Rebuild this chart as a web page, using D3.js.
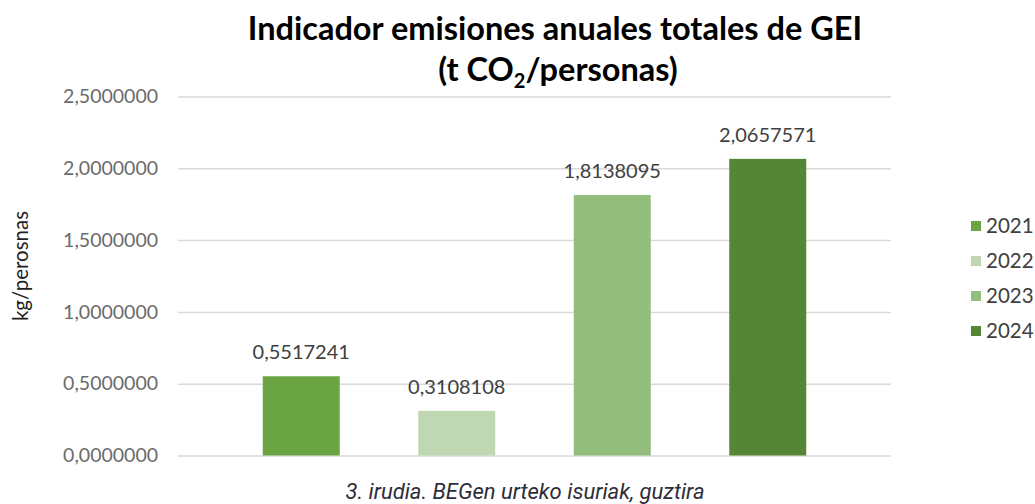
<!DOCTYPE html>
<html>
<head>
<meta charset="utf-8">
<script src="https://cdn.jsdelivr.net/npm/d3@7"></script>
<style>
  body { margin: 0; background: #fff; }
  svg { display: block; }
</style>
</head>
<body>
<div id="chart"></div>
<script>
// datos del grafico
const years = ["2021", "2022", "2023", "2024"];
const values = [0.5517241, 0.3108108, 1.8138095, 2.0657571];
const yTicks = [0, 0.5, 1, 1.5, 2, 2.5];
const colors = ["#6aa443", "#bfd7b3", "#93bd7c", "#558636"];

const width = 1035, height = 504;
const marginLeft = 178, marginRight = 144, marginTop = 97, marginBottom = 48;
const font = "Lato, 'Open Sans', sans-serif";

const fmt = v => v.toFixed(7).replace(".", ",");

const svg = d3.select("#chart")
  .append("svg")
  .attr("width", width)
  .attr("height", height)
  .attr("viewBox", [0, 0, width, height]);

const x = d3.scaleBand()
  .domain(years)
  .range([marginLeft, width - marginRight])
  .paddingInner(0.505)
  .paddingOuter(0.545);

const y = d3.scaleLinear()
  .domain([0, 2.5])
  .range([height - marginBottom - 0.5, marginTop - 0.5]);

// grid + eje y
svg.append("g")
  .attr("transform", `translate(${marginLeft},0)`)
  .call(d3.axisLeft(y).tickValues(yTicks).tickFormat(fmt).tickSize(0).tickPadding(20))
  .call(g => g.select(".domain").remove())
  .call(g => g.selectAll(".tick line").clone()
    .attr("x2", width - marginLeft - marginRight)
    .attr("stroke", "#d9d9d9")
    .attr("stroke-width", 1.5))
  .call(g => g.selectAll(".tick text")
    .attr("font-family", font)
    .attr("font-size", 19.5)
    .attr("fill", "#6b6b6b"));

// barras
svg.append("g")
  .selectAll("rect")
  .data(years)
  .join("rect")
  .attr("x", d => x(d))
  .attr("width", x.bandwidth())
  .attr("y", (d, i) => y(values[i]))
  .attr("height", (d, i) => y(0) - y(values[i]))
  .attr("fill", (d, i) => colors[i]);

// etiquetas de datos
svg.append("g")
  .selectAll("text")
  .data(years)
  .join("text")
  .attr("x", d => x(d) + x.bandwidth() / 2)
  .attr("y", (d, i) => y(values[i]) - 17)
  .attr("text-anchor", "middle")
  .attr("font-family", font)
  .attr("font-size", 20)
  .attr("fill", "#404040")
  .text((d, i) => fmt(values[i]));

// titulo
const title = svg.append("text")
  .attr("text-anchor", "middle")
  .attr("font-family", font)
  .attr("font-weight", "bold")
  .attr("font-size", 32.5)
  .attr("fill", "#000");
title.append("tspan").attr("x", 555).attr("y", 40).text("Indicador emisiones anuales totales de GEI");
const t2 = title.append("tspan").attr("x", 558).attr("y", 81);
t2.append("tspan").text("(t CO");
t2.append("tspan").attr("font-size", 20).attr("dy", 7).text("2");
t2.append("tspan").attr("dy", -7).text("/personas)");

// eje y titulo
svg.append("text")
  .attr("transform", `translate(28,${266}) rotate(-90)`)
  .attr("text-anchor", "middle")
  .attr("font-family", font)
  .attr("font-size", 20.5)
  .attr("fill", "#222")
  .text("kg/perosnas");

// leyenda
const legend = svg.append("g")
  .selectAll("g")
  .data(years)
  .join("g")
  .attr("transform", (d, i) => `translate(971,${226 + i * 35})`);
legend.append("rect")
  .attr("y", -5)
  .attr("width", 10)
  .attr("height", 10)
  .attr("fill", (d, i) => colors[i]);
legend.append("text")
  .attr("x", 15)
  .attr("dy", "0.35em")
  .attr("font-family", font)
  .attr("font-size", 20.5)
  .attr("fill", "#404040")
  .text(d => d);

// pie
svg.append("text")
  .attr("x", 525)
  .attr("y", 499)
  .attr("text-anchor", "middle")
  .attr("font-family", "Roboto, 'Open Sans', sans-serif")
  .attr("font-style", "italic")
  .attr("font-size", 22)
  .attr("fill", "#2e2e3a")
  .text("3. irudia. BEGen urteko isuriak, guztira");
</script>
</body>
</html>
